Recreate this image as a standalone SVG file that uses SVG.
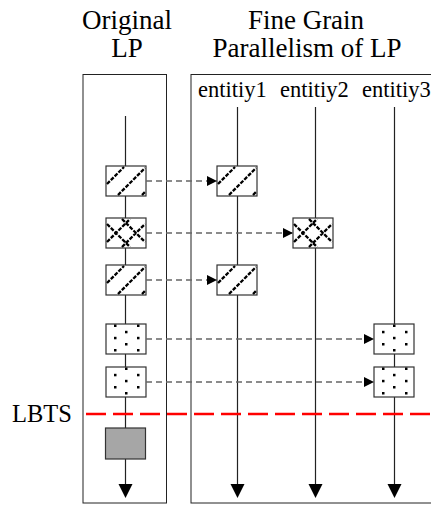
<svg xmlns="http://www.w3.org/2000/svg" width="431" height="505" viewBox="0 0 431 505">
  <style>
    text { font-family: 'Liberation Serif', 'Times New Roman', 'DejaVu Serif', serif; fill: #000; }
    .title { font-size: 27px; text-anchor: middle; }
    .ent { font-size: 22.5px; }
    .frame { fill: none; stroke: #222; stroke-width: 1; }
    .axis { fill: none; stroke: #222; stroke-width: 1.2; }
    .box { fill: #fff; stroke: #333; stroke-width: 1.2; }
    .hatch { fill: none; stroke: #000; stroke-width: 2.3; stroke-dasharray: 4 1.4; }
    .msg { fill: none; stroke: #666; stroke-width: 1.5; stroke-dasharray: 6 4; }
    .lbts { fill: none; stroke: #f00; stroke-width: 2.5; stroke-dasharray: 20 7; }
    .tip { fill: #000; }
  </style>
  <defs>
    <marker id="arrow" viewBox="0 0 10 10" refX="10" refY="5" markerWidth="10" markerHeight="10" markerUnits="userSpaceOnUse" orient="auto">
      <path d="M0,0 L10,5 L0,10 Z" fill="#000"/>
    </marker>
    <!-- event types, drawn in a 40x30 cell -->
    <g id="diag">
      <rect class="box" x="0" y="0" width="40" height="30"/>
      <path class="hatch" d="M1,18 L18,1 M12,29 L39,2 M36,29 L39,26"/>
    </g>
    <g id="cross">
      <rect class="box" x="0" y="0" width="40" height="30"/>
      <path class="hatch" d="M1,24 L24,1 M1,6 L24,29 M16,29 L39,6 M16,1 L39,24"/>
    </g>
    <g id="dotsA">
      <rect class="box" x="0" y="0" width="40" height="30"/>
      <g fill="#000">
        <rect x="19" y="0.5" width="2.5" height="2.5"/>
        <rect x="19" y="12.8" width="2.5" height="2.5"/>
        <rect x="19" y="25" width="2.5" height="2.5"/>
        <rect x="8" y="6.8" width="2.5" height="2.5"/>
        <rect x="31" y="6.8" width="2.5" height="2.5"/>
        <rect x="8" y="19" width="2.5" height="2.5"/>
        <rect x="31" y="19" width="2.5" height="2.5"/>
      </g>
    </g>
    <g id="dotsB">
      <rect class="box" x="0" y="0" width="40" height="30"/>
      <g fill="#000">
        <rect x="8" y="0.5" width="2.5" height="2.5"/>
        <rect x="31" y="0.5" width="2.5" height="2.5"/>
        <rect x="8" y="12.8" width="2.5" height="2.5"/>
        <rect x="31" y="12.8" width="2.5" height="2.5"/>
        <rect x="8" y="25" width="2.5" height="2.5"/>
        <rect x="31" y="25" width="2.5" height="2.5"/>
        <rect x="19" y="6.8" width="2.5" height="2.5"/>
        <rect x="19" y="19" width="2.5" height="2.5"/>
      </g>
    </g>
  </defs>

  <!-- headings -->
  <g id="headings">
    <text class="title" x="127" y="29" font-family="Liberation Serif">Original</text>
    <text class="title" x="127" y="57" font-family="Liberation Serif">LP</text>
    <text class="title" x="306" y="29" font-family="Liberation Serif">Fine Grain</text>
    <text class="title" x="307" y="57" font-family="Liberation Serif">Parallelism of LP</text>
  </g>

  <!-- frames -->
  <rect class="frame" x="83" y="74.5" width="83.5" height="428.5"/>
  <rect class="frame" x="191" y="74.5" width="260" height="428.5"/>

  <text class="ent" x="198" y="97" font-family="Liberation Serif">entitiy1</text>
  <text class="ent" x="280" y="97" font-family="Liberation Serif">entitiy2</text>
  <text class="ent" x="362" y="97" font-family="Liberation Serif">entitiy3</text>

  <!-- timelines -->
  <g id="timelines">
    <line class="axis" x1="125.5" y1="116" x2="125.5" y2="486"/>
    <line class="axis" x1="237.5" y1="107" x2="237.5" y2="486"/>
    <line class="axis" x1="315.5" y1="107" x2="315.5" y2="486"/>
    <line class="axis" x1="394.5" y1="107" x2="394.5" y2="486"/>
    <path class="tip" d="M118.5,484 L132.5,484 L125.5,498 Z"/>
    <path class="tip" d="M230.5,484 L244.5,484 L237.5,498 Z"/>
    <path class="tip" d="M308.5,484 L322.5,484 L315.5,498 Z"/>
    <path class="tip" d="M387.5,484 L401.5,484 L394.5,498 Z"/>
  </g>

  <!-- LBTS bound -->
  <g id="lbts">
    <line class="lbts" x1="86" y1="414" x2="431" y2="414"/>
    <text class="title" x="42" y="422" font-family="Liberation Serif" style="font-size:24.5px">LBTS</text>
  </g>

  <!-- original LP events -->
  <g id="lp-events">
    <use href="#diag" x="106" y="166"/>
    <use href="#cross" x="106" y="218"/>
    <use href="#diag" x="106" y="265"/>
    <use href="#dotsB" x="106" y="324"/>
    <use href="#dotsA" x="106" y="367"/>
    <rect x="105.5" y="428" width="40" height="31" fill="#a6a6a6" stroke="#333" stroke-width="1.2"/>
  </g>

  <!-- entity events -->
  <g id="entity1-events">
    <use href="#diag" x="217" y="166"/>
    <use href="#diag" x="217" y="265"/>
  </g>
  <g id="entity2-events">
    <use href="#cross" x="293" y="218"/>
  </g>
  <g id="entity3-events">
    <use href="#dotsA" x="374" y="324"/>
    <use href="#dotsB" x="374" y="367"/>
  </g>

  <!-- distribution connectors -->
  <g id="connectors">
    <line class="msg" x1="146" y1="181" x2="217" y2="181" marker-end="url(#arrow)"/>
    <line class="msg" x1="146" y1="233" x2="293" y2="233" marker-end="url(#arrow)"/>
    <line class="msg" x1="146" y1="280" x2="217" y2="280" marker-end="url(#arrow)"/>
    <line class="msg" x1="146" y1="339" x2="374" y2="339" marker-end="url(#arrow)"/>
    <line class="msg" x1="146" y1="382" x2="374" y2="382" marker-end="url(#arrow)"/>
  </g>
</svg>
